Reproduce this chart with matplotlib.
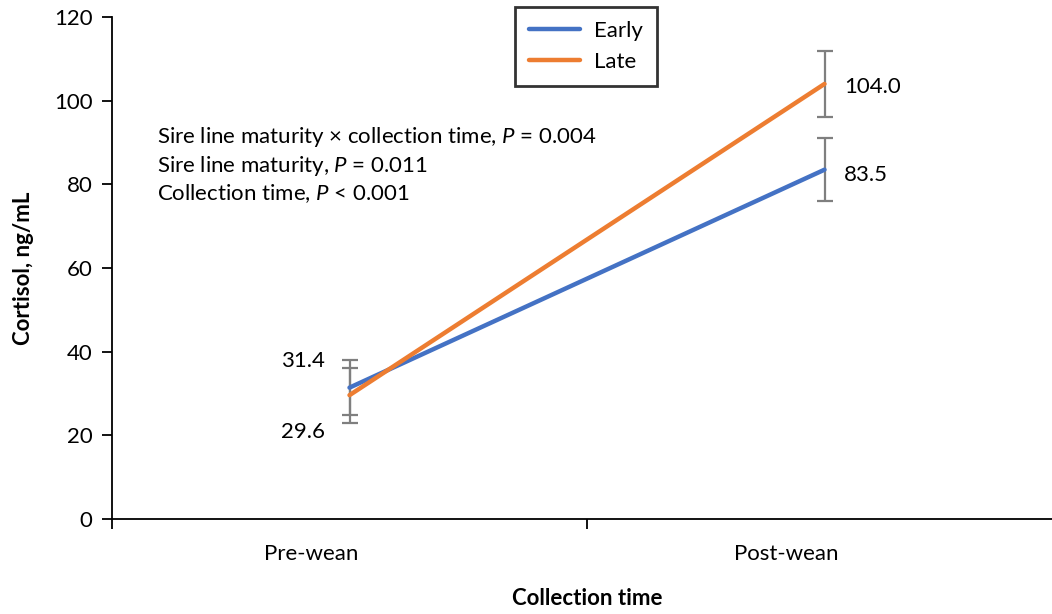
import numpy as np
import matplotlib
matplotlib.use('Agg')
import matplotlib.pyplot as plt
import matplotlib.transforms as mtransforms

plt.rcParams['font.family'] = ['Lato', 'DejaVu Sans']
plt.rcParams['mathtext.fontset'] = 'custom'
plt.rcParams['mathtext.rm'] = 'Lato'
plt.rcParams['mathtext.it'] = 'Lato:italic'

times = ['Pre-wean', 'Post-wean']
early = [31.4, 83.5]
late = [29.6, 104.0]
earlyErr = [6.6, 7.6]
lateErr = [6.6, 7.8]
stats = [
    r'Sire line maturity $\times$ collection time, $P$ = 0.004',
    r'Sire line maturity, $P$ = 0.011',
    r'Collection time, $P$ < 0.001',
]

W, H = 1052, 614
fig = plt.figure(figsize=(W/100, H/100), dpi=100)
# plot area runs a little past the right edge of the figure
ax = fig.add_axes([112/W, (H-519)/H, (1062-112)/W, (519-17)/H])

x = np.arange(len(times))
errColor = '#7f7f7f'
for vals, errs in [(early, earlyErr), (late, lateErr)]:
    ax.errorbar(x, vals, yerr=errs, fmt='none', ecolor=errColor, elinewidth=1.6,
                capsize=5.5, capthick=1.6, zorder=2)
ax.plot(x, early, color='#4472C4', linewidth=3.2, label='Early', zorder=3, solid_capstyle='round')
ax.plot(x, late, color='#ED7D31', linewidth=3.2, label='Late', zorder=4, solid_capstyle='round')

fs = 16
# value labels
ax.annotate(f'{early[0]:.1f}', (x[0], early[0]), xytext=(-18, 19), textcoords='offset points',
            ha='right', va='center', fontsize=fs)
ax.annotate(f'{late[0]:.1f}', (x[0], late[0]), xytext=(-18, -26.5), textcoords='offset points',
            ha='right', va='center', fontsize=fs)
ax.annotate(f'{early[1]:.1f}', (x[1], early[1]), xytext=(14, -3.5), textcoords='offset points',
            ha='left', va='center', fontsize=fs)
ax.annotate(f'{late[1]:.1f}', (x[1], late[1]), xytext=(14, -2), textcoords='offset points',
            ha='left', va='center', fontsize=fs)

for i, s in enumerate(stats):
    ax.text(157/W, 1 - (137 + i*28.5)/H, s, transform=fig.transFigure, fontsize=fs,
            ha='left', va='center')

ax.set_ylim(0, 120)
ax.set_yticks(np.arange(0, 121, 20))
ax.set_xlim(-0.5, 1.5)
ax.set_xticks([-0.5, 0.5, 1.5])
ax.set_xticklabels([])
ax.set_xticks(x, minor=True)
ax.set_xticklabels(times, minor=True)
ax.tick_params(axis='x', which='minor', length=0, pad=18, labelsize=fs)
ax.tick_params(axis='x', which='major', direction='out', length=7, width=1.3)
ax.tick_params(axis='y', direction='out', length=7, width=1.3, labelsize=fs, pad=7)

# category labels sit a bit left of the category centres
shift = mtransforms.ScaledTranslation(-38/100, 0, fig.dpi_scale_trans)
for lbl in ax.get_xticklabels(minor=True):
    lbl.set_transform(lbl.get_transform() + shift)

for side in ['top', 'right']:
    ax.spines[side].set_visible(False)
for side in ['left', 'bottom']:
    ax.spines[side].set_linewidth(1.3)

ax.set_ylabel('Cortisol, ng/mL', fontsize=fs, fontweight='bold', labelpad=14)
ax.set_xlabel('Collection time', fontsize=fs, fontweight='bold', labelpad=17)

leg = ax.legend(loc='upper left', bbox_to_anchor=(515/W, 1 - 7/H), bbox_transform=fig.transFigure,
                fontsize=fs, frameon=True, fancybox=False, edgecolor='black', handlelength=2.3,
                borderpad=0.62, labelspacing=0.5, borderaxespad=0, handletextpad=0.65)
leg.get_frame().set_linewidth(2)

fig.savefig('out.png', dpi=100)
